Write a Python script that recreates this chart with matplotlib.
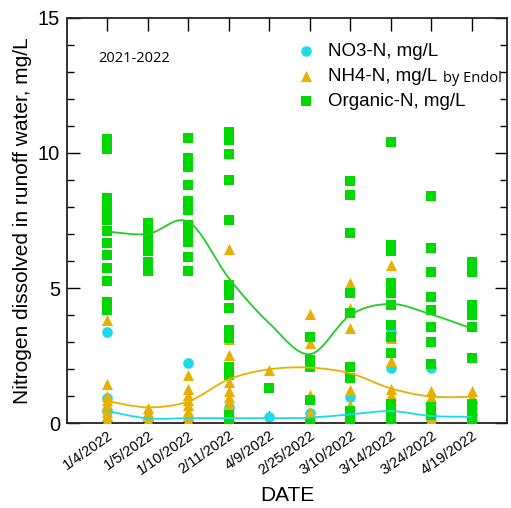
import numpy as np
import matplotlib
matplotlib.use("Agg")
import matplotlib.pyplot as plt
from matplotlib.path import Path
from matplotlib.patches import PathPatch
from matplotlib.ticker import MultipleLocator
import matplotlib.transforms as mtransforms

plt.rcParams['font.family'] = ['Liberation Sans', 'DejaVu Sans']

dates = ['1/4/2022', '1/5/2022', '1/10/2022', '2/11/2022', '4/9/2022',
         '2/25/2022', '3/10/2022', '3/14/2022', '3/24/2022', '4/19/2022']

no3 = [
    [3.36, 0.92, 0.45, 0.05],
    [0.1, 0.05],
    [2.21, 0.05],
    [0.6, 0.05],
    [0.23],
    [0.36, 0.1],
    [0.98, 0.05],
    [3.38, 2.02, 0.05],
    [2.02, 0.3, 0.05],
    [0.75, 0.3, 0.05],
]

nh4 = [
    [3.81, 1.43, 1.0, 0.85, 0.7, 0.55, 0.4, 0.25, 0.1],
    [0.55, 0.4, 0.25, 0.1],
    [1.78, 1.25, 1.05, 0.85, 0.65, 0.45, 0.3, 0.1],
    [6.44, 3.1, 2.52, 2.09, 1.53, 1.2, 0.95, 0.7, 0.45, 0.25],
    [1.96],
    [4.02, 2.95, 1.05, 0.4],
    [5.17, 4.27, 3.51, 1.22, 0.67],
    [5.85, 3.14, 2.3, 1.25, 1.05, 0.85, 0.65, 0.2],
    [1.2, 0.95, 0.7, 0.45, 0.15],
    [5.75, 1.2, 0.95, 0.7, 0.5],
]

organic = [
    [10.51, 10.14, 8.35, 8.0, 7.7, 7.5, 7.11, 6.65, 6.22, 5.73, 5.27, 4.49, 4.19],
    [7.42, 7.09, 6.72, 6.37, 5.98, 5.64],
    [10.54, 9.80, 9.49, 8.81, 8.22, 7.89, 7.33, 7.02, 6.72, 6.16, 5.64],
    [10.79, 10.48, 9.96, 9.0, 7.52, 5.11, 4.74, 4.25, 3.44, 3.14, 2.09, 1.78, 0.3, 0.1],
    [1.28],
    [3.2, 2.33, 2.09, 0.85, 0.05],
    [8.96, 8.44, 7.02, 4.80, 4.06, 2.09, 1.65, 0.45, 0.15],
    [10.42, 6.59, 6.37, 5.17, 4.80, 4.37, 3.63, 3.2, 2.58, 0.7, 0.4, 0.1],
    [8.41, 6.47, 5.6, 4.68, 4.19, 3.57, 3.01, 2.17, 0.6, 0.3],
    [5.98, 5.6, 4.37, 4.0, 3.57, 2.42, 0.7, 0.4, 0.1],
]

# smooth trend lines (values at each date)
no3_fit = [0.44, 0.17, 0.18, 0.18, 0.18, 0.2, 0.32, 0.44, 0.26, 0.23]
nh4_fit = [0.81, 0.58, 0.8, 1.62, 1.99, 2.05, 1.84, 1.28, 0.98, 0.97]
org_fit = [7.09, 7.0, 7.45, 5.36, 3.69, 2.55, 4.0, 4.41, 4.02, 3.5]

c_no3 = '#1ED9E6'
c_nh4 = '#E6B000'
c_org = '#00D800'


def flat(groups):
    xs, ys = [], []
    for i, g in enumerate(groups):
        xs += [i] * len(g)
        ys += g
    return xs, ys


def smooth_line(ax, vals, color):
    # catmull-rom through the points, drawn as bezier path
    x = np.arange(len(vals), dtype=float)
    y = np.asarray(vals, dtype=float)
    px = np.concatenate([[x[0]], x, [x[-1]]])
    py = np.concatenate([[y[0]], y, [y[-1]]])
    verts = [(x[0], y[0])]
    codes = [Path.MOVETO]
    for i in range(len(x) - 1):
        p0 = np.array([px[i], py[i]])
        p1 = np.array([px[i + 1], py[i + 1]])
        p2 = np.array([px[i + 2], py[i + 2]])
        p3 = np.array([px[i + 3], py[i + 3]])
        c1 = p1 + (p2 - p0) / 6
        c2 = p2 - (p3 - p1) / 6
        verts += [tuple(c1), tuple(c2), tuple(p2)]
        codes += [Path.CURVE4] * 3
    ax.add_patch(PathPatch(Path(verts, codes), fill=False, ec=color, lw=1.3, zorder=5))


fig = plt.figure(figsize=(5.11, 5.08), dpi=100)
ax = fig.add_axes([0.1311, 0.1673, 0.8611, 0.7973])

x, y = flat(no3)
ax.scatter(x, y, s=58, marker='o', color=c_no3, lw=0, zorder=2, label='NO3-N, mg/L')
x, y = flat(nh4)
ax.scatter(x, y, s=64, marker='^', color=c_nh4, lw=0, zorder=3, label='NH4-N, mg/L')
x, y = flat(organic)
ax.scatter(x, y, s=48, marker='s', color=c_org, lw=0, zorder=4, label='Organic-N, mg/L')

smooth_line(ax, no3_fit, c_no3)
smooth_line(ax, nh4_fit, c_nh4)
smooth_line(ax, org_fit, '#22CC22')

ax.set_xlim(-1, 9.87)
ax.set_ylim(0, 15)
ax.set_xticks(range(len(dates)))
ax.set_xticklabels(dates, rotation=35, ha='right', rotation_mode='anchor', fontsize=10.5)
offset = mtransforms.ScaledTranslation(0.09, -0.02, fig.dpi_scale_trans)
for lab in ax.get_xticklabels():
    lab.set_transform(lab.get_transform() + offset)
ax.yaxis.set_major_locator(MultipleLocator(5))
ax.yaxis.set_minor_locator(MultipleLocator(1))
ax.tick_params(axis='both', which='major', direction='in', length=9, width=1,
               top=True, right=True)
ax.tick_params(axis='y', which='minor', direction='in', length=5, width=1, right=True)
ax.tick_params(axis='y', labelsize=14.5, pad=5)
ax.tick_params(axis='x', labelsize=10.5, pad=4)
for sp in ax.spines.values():
    sp.set_linewidth(1.3)
    sp.set_color('#222222')

ax.set_xlabel('DATE', fontsize=15, labelpad=6)
ax.set_ylabel('Nitrogen dissolved in runoff water, mg/L', fontsize=15, labelpad=4)

ax.text(0.07, 0.9, '2021-2022', transform=ax.transAxes, fontsize=10.5,
        family=['Open Sans', 'DejaVu Sans'], va='center')
leg = ax.legend(loc='upper left', bbox_to_anchor=(0.50, 0.962), frameon=False,
                fontsize=13.5, handlelength=1, handletextpad=0.7, labelspacing=0.42,
                borderpad=0, scatterpoints=1)
ax.text(0.855, 0.851, 'by Endol', transform=ax.transAxes, fontsize=10.5,
        family=['Open Sans', 'DejaVu Sans'], va='center')

plt.savefig('out.png', dpi=100)
